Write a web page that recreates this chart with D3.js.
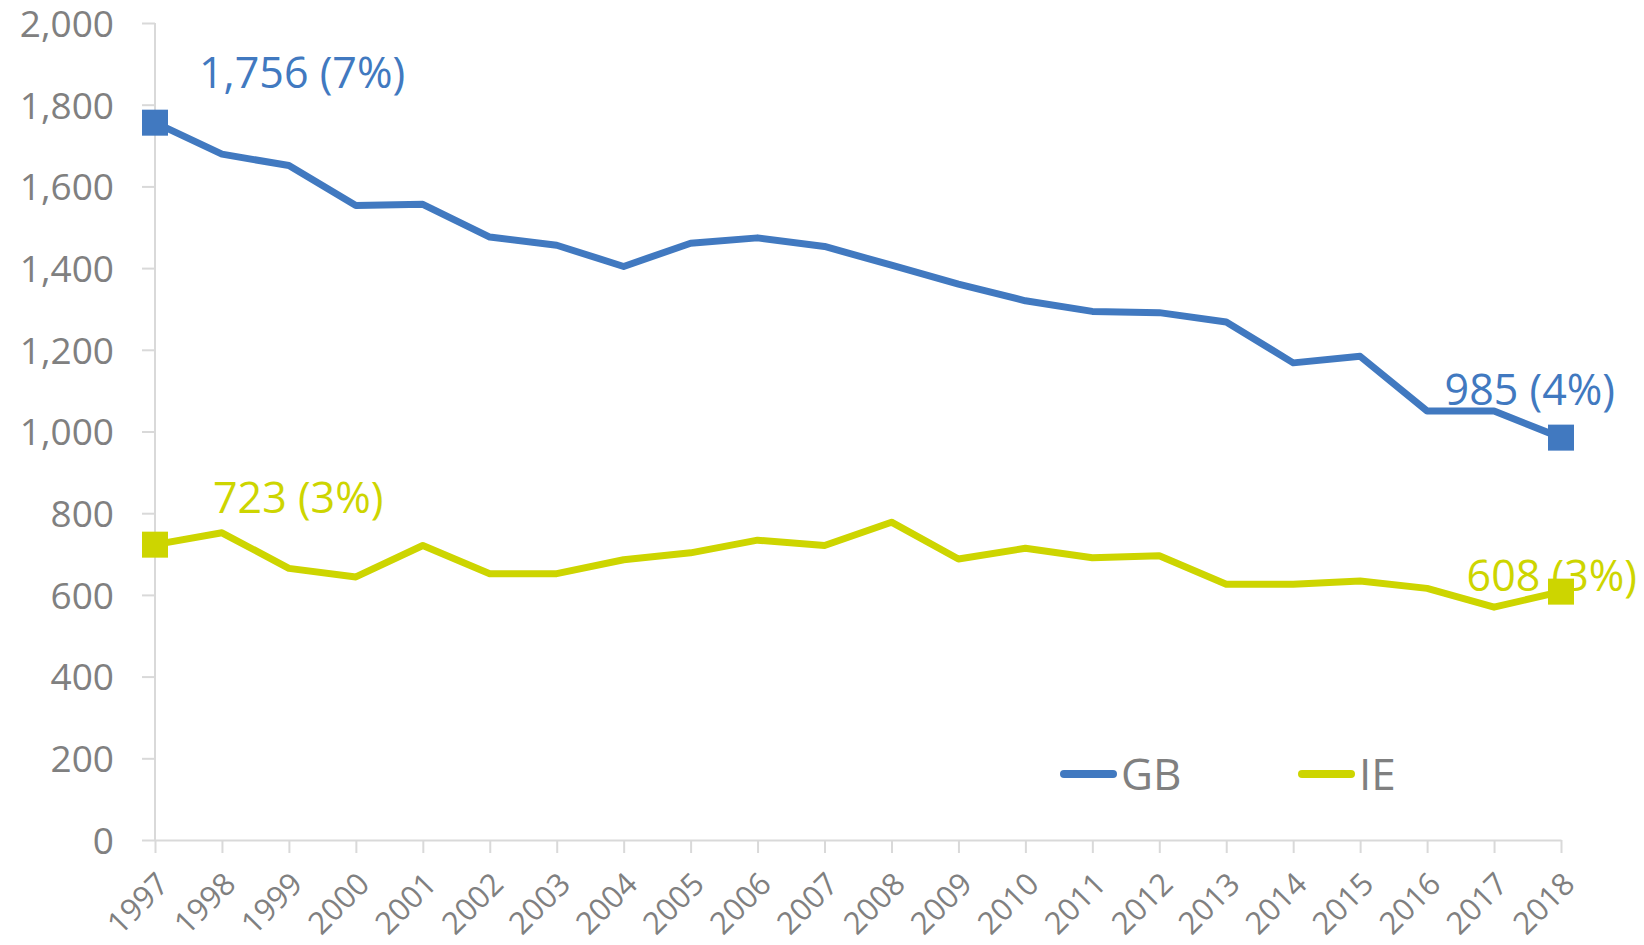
<!DOCTYPE html>
<html>
<head>
<meta charset="utf-8">
<script src="https://cdn.jsdelivr.net/npm/d3@7"></script>
<style>
  body { margin: 0; background: #fff; }
  text { font-family: "Open Sans", "Noto Sans", sans-serif; }
</style>
</head>
<body>
<div class="container"></div>
<script>
var years = [1997,1998,1999,2000,2001,2002,2003,2004,2005,2006,2007,2008,2009,2010,2011,2012,2013,2014,2015,2016,2017,2018];
var gbValues = [1756,1679,1651,1553,1556,1476,1456,1404,1461,1474,1453,1407,1361,1320,1294,1291,1268,1168,1184,1050,1050,985];
var ieValues = [723,752,665,644,721,652,652,686,703,734,721,778,688,714,691,696,626,626,634,616,570,608];
var yTicks = [0,200,400,600,800,1000,1200,1400,1600,1800,2000];
var endLabels = {GB: ["1,756 (7%)", "985 (4%)"], IE: ["723 (3%)", "608 (3%)"]};

const WIDTH = 1644;
const HEIGHT = 945;
const LEFT = 155, RIGHT = 1561, TOP = 23, BOTTOM = 840;

var series = [
  {name: "GB", values: gbValues, color: "#4179c0"},
  {name: "IE", values: ieValues, color: "#cdd500"}
];

var svg = d3.select('.container').append('svg')
  .attr('width', WIDTH)
  .attr('height', HEIGHT);

var xScale = d3.scalePoint()
  .domain(years)
  .range([LEFT, RIGHT]);

var yScale = d3.scaleLinear()
  .domain([0, 2000])
  .range([BOTTOM, TOP]);

// y axis
var yAxis = d3.axisLeft(yScale)
  .tickValues(yTicks)
  .tickSize(13)
  .tickPadding(28)
  .tickFormat(d3.format(','));

var yg = svg.append('g')
  .attr('transform', 'translate(' + LEFT + ',0)')
  .call(yAxis);
yg.selectAll('path, line').attr('stroke', '#d9d9d9').attr('stroke-width', 2);
yg.select('.domain').attr('d', 'M0,' + TOP + 'V' + BOTTOM);
yg.selectAll('text')
  .attr('fill', '#808080')
  .style('font-size', '37px')
  .attr('dy', '0.36em');

// x axis
var xAxis = d3.axisBottom(xScale).tickSize(13).tickSizeOuter(0);
var xg = svg.append('g')
  .attr('transform', 'translate(0,' + BOTTOM + ')')
  .call(xAxis);
xg.selectAll('path, line').attr('stroke', '#d9d9d9').attr('stroke-width', 2);
xg.selectAll('text')
  .attr('fill', '#808080')
  .style('font-size', '31px')
  .attr('text-anchor', 'end')
  .attr('y', 0)
  .attr('dy', 0)
  .attr('transform', 'translate(15,46) rotate(-45)');

// lines
var line = d3.line()
  .x(function(d, i){ return xScale(years[i]); })
  .y(function(d){ return yScale(d); });

series.forEach(function(s){
  svg.append('path')
    .datum(s.values)
    .attr('fill', 'none')
    .attr('stroke', s.color)
    .attr('stroke-width', 7)
    .attr('stroke-linejoin', 'round')
    .attr('d', line);

  var ends = [0, s.values.length - 1];
  svg.selectAll('rect.m' + s.name)
    .data(ends)
    .enter().append('rect')
    .attr('x', function(i){ return xScale(years[i]) - 13; })
    .attr('y', function(i){ return yScale(s.values[i]) - 13; })
    .attr('width', 26)
    .attr('height', 26)
    .attr('fill', s.color);
});

// end labels (offsets relative to the marker)
var labelPos = {
  GB: [{dx: 44, dy: -35, anchor: 'start'}, {dx: 54, dy: -33, anchor: 'end'}],
  IE: [{dx: 58, dy: -32, anchor: 'start'}, {dx: 76, dy: -1, anchor: 'end'}]
};
series.forEach(function(s){
  [0, s.values.length - 1].forEach(function(i, k){
    var p = labelPos[s.name][k];
    svg.append('text')
      .attr('x', xScale(years[i]) + p.dx)
      .attr('y', yScale(s.values[i]) + p.dy)
      .attr('text-anchor', p.anchor)
      .attr('fill', s.color)
      .style('font-size', '43px')
      .text(endLabels[s.name][k]);
  });
});

// legend
var legend = svg.append('g');
var legendX = [1064, 1302];
series.forEach(function(s, i){
  var g = legend.append('g').attr('transform', 'translate(' + legendX[i] + ',774)');
  g.append('line')
    .attr('x1', 0).attr('x2', 49)
    .attr('stroke', s.color)
    .attr('stroke-width', 8)
    .attr('stroke-linecap', 'round');
  g.append('text')
    .attr('x', 57)
    .attr('dy', '0.36em')
    .attr('fill', '#808080')
    .style('font-size', '44px')
    .text(s.name);
});
</script>
</body>
</html>
